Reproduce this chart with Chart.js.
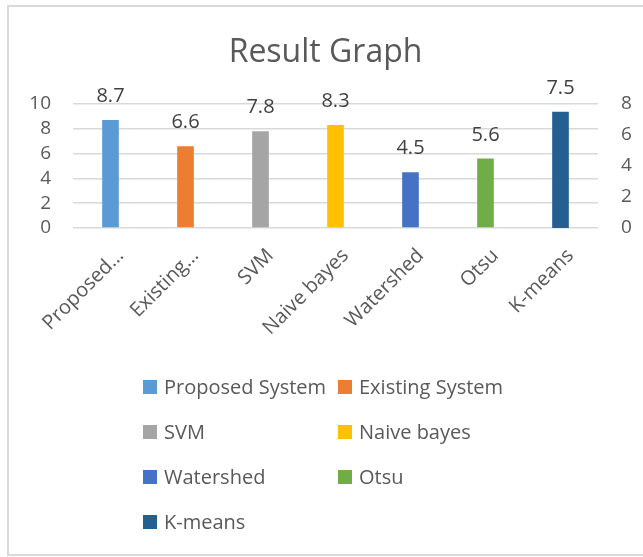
<!DOCTYPE html>
<html>
<head>
<meta charset="utf-8">
<title>Result Graph</title>
<script src="https://cdn.jsdelivr.net/npm/chart.js@4.4.0/dist/chart.umd.min.js"></script>
<style>
    html, body { margin: 0; padding: 0; background: #ffffff; }
    #wrap { position: absolute; left: 0; top: 0; width: 643px; height: 557px; }
    #frame {
        position: absolute; left: 7px; top: 5px; width: 645px; height: 551px;
        border: 2px solid #d9d9d9; box-sizing: border-box; pointer-events: none;
    }
</style>
</head>
<body>
<div id="wrap"><canvas id="my_chart" width="643" height="557"></canvas></div>
<div id="frame"></div>
<script>
    // categories / series
    var categories = ["Proposed System", "Existing System", "SVM", "Naive bayes", "Watershed", "Otsu", "K-means"];
    var values = [8.7, 6.6, 7.8, 8.3, 4.5, 5.6, 7.5];
    var colors = ["#5b9bd5", "#ed7d31", "#a5a5a5", "#ffc000", "#4472c4", "#70ad47", "#255e91"];
    var secondarySeries = ["K-means"]; // plotted against the right axis
    var leftTicks = [0, 2, 4, 6, 8, 10];
    var rightTicks = [0, 2, 4, 6, 8];

    var FONT = "'Open Sans', sans-serif";
    var TEXT = "#595959";

    Chart.defaults.font.family = FONT;
    Chart.defaults.color = TEXT;

    // one series per category, so every bar gets its own legend entry
    var datasets = categories.map(function (name, i) {
        return {
            label: name,
            data: categories.map(function (c, j) { return j === i ? values[i] : null; }),
            backgroundColor: colors[i],
            yAxisID: secondarySeries.indexOf(name) >= 0 ? "y2" : "y",
            skipNull: true,
            categoryPercentage: 1,
            barPercentage: 0.222,
        };
    });

    // value labels above the bars
    var valueLabels = {
        id: "valueLabels",
        afterDatasetsDraw: function (chart) {
            var ctx = chart.ctx;
            ctx.save();
            ctx.font = "20px " + FONT;
            ctx.fillStyle = "#404040";
            ctx.textAlign = "center";
            ctx.textBaseline = "alphabetic";
            chart.data.datasets.forEach(function (ds, i) {
                chart.getDatasetMeta(i).data.forEach(function (bar, j) {
                    if (ds.data[j] == null) return;
                    ctx.fillText(ds.data[j].toFixed(1), bar.x, bar.y - 18);
                });
            });
            ctx.restore();
        },
    };

    // two-column legend like the office chart
    var gridLegend = {
        id: "gridLegend",
        afterDraw: function (chart) {
            var items = Chart.defaults.plugins.legend.labels.generateLabels(chart);
            var ctx = chart.ctx;
            ctx.save();
            ctx.font = "20px " + FONT;
            ctx.textBaseline = "middle";
            ctx.textAlign = "left";
            items.forEach(function (item, k) {
                var x = 143 + (k % 2) * 195;
                var y = 387 + Math.floor(k / 2) * 45;
                ctx.fillStyle = item.fillStyle;
                ctx.fillRect(x, y - 7, 14, 14);
                ctx.fillStyle = TEXT;
                ctx.fillText(item.text, x + 21, y + 1);
            });
            ctx.restore();
        },
    };

    var ctx = document.getElementById("my_chart").getContext("2d");

    var myChart = new Chart(ctx, {
        type: "bar",
        data: { labels: categories, datasets: datasets },
        options: {
            responsive: false,
            animation: false,
            layout: { padding: { left: 8, right: 0, top: 8, bottom: 209 } },
            plugins: {
                legend: { display: false },
                tooltip: { enabled: false },
                title: {
                    display: true,
                    text: "Result Graph",
                    color: TEXT,
                    font: { size: 32, weight: "normal", family: FONT },
                    padding: { top: 26, bottom: 31.6 },
                },
            },
            scales: {
                x: {
                    grid: { display: false, drawTicks: false },
                    border: { display: false },
                    ticks: {
                        color: TEXT,
                        font: { size: 20 },
                        minRotation: 45,
                        maxRotation: 45,
                        autoSkip: false,
                        padding: 16,
                        labelOffset: 10,
                        callback: function (v) {
                            var t = this.getLabelForValue(v);
                            return t.length > 12 ? t.split(" ")[0] + "\u2026" : t;
                        },
                    },
                    afterFit: function (s) { s.height = 120; },
                },
                y: {
                    position: "left",
                    min: leftTicks[0],
                    max: leftTicks[leftTicks.length - 1],
                    afterBuildTicks: function (s) { s.ticks = leftTicks.map(function (v) { return { value: v }; }); },
                    ticks: { color: TEXT, font: { size: 19 }, padding: 22, autoSkip: false },
                    grid: { color: "#d9d9d9", lineWidth: 1.5, drawTicks: false },
                    border: { display: false },
                    afterFit: function (s) { s.width = 65; },
                },
                y2: {
                    position: "right",
                    min: rightTicks[0],
                    max: rightTicks[rightTicks.length - 1],
                    afterBuildTicks: function (s) { s.ticks = rightTicks.map(function (v) { return { value: v }; }); },
                    ticks: { color: TEXT, font: { size: 19 }, padding: 23, autoSkip: false },
                    grid: { display: false, drawTicks: false },
                    border: { display: false },
                    afterFit: function (s) { s.width = 45; },
                },
            },
        },
        plugins: [valueLabels, gridLegend],
    });
</script>
</body>
</html>
